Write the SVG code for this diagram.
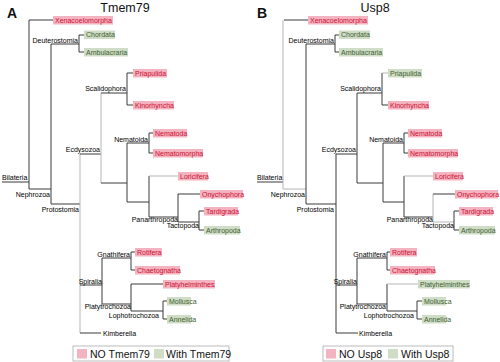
<svg xmlns="http://www.w3.org/2000/svg" width="500" height="362" viewBox="0 0 500 362">
<style>
text{font-family:"Liberation Sans",Arial,sans-serif}
.t{font-size:7px;fill:#000}
.r{text-anchor:end}
.bx text{font-size:7px}
.p rect{fill:#f4b3c0}
.p text{fill:#cc1133}
.g rect{fill:#cfdcc6}
.g text{fill:#3f5f32}
.ln{stroke:#3a3a3a;stroke-width:1;fill:none}
.lt{stroke:#b5b5b5;stroke-width:1;fill:none}
.title{font-size:12.5px;fill:#111;text-anchor:middle}
.pl{font-size:14px;font-weight:bold;fill:#111}
.lg{font-size:10.5px;fill:#111}
</style>
<rect width="500" height="362" fill="#fff"/>

<!-- Panel A -->
<text class="pl" x="7" y="18">A</text>
<text class="title" x="125" y="12">Tmem79</text>
<g id="connectors-A">
<path class="ln" d="M2,182H29M29,20V189M29,20H53"/>
<path class="ln" d="M29,189H51M51,44V204M51,44H79M79,35V52M79,35H84M79,52H84"/>
<path class="ln" d="M51,204H80"/>
<path class="lt" d="M80,154V333"/>
<path class="ln" d="M80,154H101"/>
<path class="lt" d="M101,93V183"/>
<path class="ln" d="M101,93H127M127,73V105M127,73H133M127,105H133"/>
<path class="ln" d="M101,183H127M127,143V202M127,143H149M149,133V153M149,133H153M149,153H153"/>
<path class="ln" d="M127,202H149M149,176V217"/>
<path class="lt" d="M149,176H178"/>
<path class="ln" d="M149,217H178M178,194V222M178,194H200M178,222H199M199,211V230M199,211H204M199,230H204"/>
<path class="ln" d="M80,285H102M102,258V304M102,258H131M131,252V270M131,252H135M131,270H135"/>
<path class="ln" d="M102,304H131M131,284V311M131,284H163M131,311H163M163,301V319M163,301H167M163,319H167"/>
<path class="ln" d="M80,333H101"/>
</g>
<g id="A-Bilateria"><text class="t" x="2" y="180">Bilateria</text></g>
<g id="A-Nephrozoa"><text class="t r" x="50" y="197">Nephrozoa</text></g>
<g id="A-Deuterostomia"><text class="t r" x="78" y="43">Deuterostomia</text></g>
<g id="A-Protostomia"><text class="t r" x="79" y="212">Protostomia</text></g>
<g id="A-Ecdysozoa"><text class="t r" x="100" y="152">Ecdysozoa</text></g>
<g id="A-Scalidophora"><text class="t r" x="126" y="91">Scalidophora</text></g>
<g id="A-Nematoida"><text class="t r" x="148" y="142">Nematoida</text></g>
<g id="A-Panarthropoda"><text class="t r" x="178" y="222">Panarthropoda</text></g>
<g id="A-Tactopoda"><text class="t r" x="199" y="228">Tactopoda</text></g>
<g id="A-Spiralia"><text class="t r" x="102" y="284">Spiralia</text></g>
<g id="A-Gnathifera"><text class="t r" x="130" y="257">Gnathifera</text></g>
<g id="A-Platytrochozoa"><text class="t r" x="131" y="309">Platytrochozoa</text></g>
<g id="A-Lophotrochozoa"><text class="t r" x="159" y="318">Lophotrochozoa</text></g>
<g id="A-Kimberella"><text class="t" x="103" y="336">Kimberella</text></g>
<g id="A-Xenacoelomorpha" class="bx p"><rect x="53" y="16" width="60" height="8.5"/><text x="55" y="22.5">Xenacoelomorpha</text></g>
<g id="A-Chordata" class="bx g"><rect x="84" y="30.5" width="31" height="8.5"/><text x="86" y="37">Chordata</text></g>
<g id="A-Ambulacraria" class="bx g"><rect x="84" y="48" width="44" height="8.5"/><text x="86" y="54.5">Ambulacraria</text></g>
<g id="A-Priapulida" class="bx p"><rect x="133" y="69" width="34" height="8.5"/><text x="135" y="75.5">Priapulida</text></g>
<g id="A-Kinorhyncha" class="bx p"><rect x="133" y="101" width="41" height="8.5"/><text x="135" y="107.5">Kinorhyncha</text></g>
<g id="A-Nematoda" class="bx p"><rect x="153" y="129" width="34" height="8.5"/><text x="155" y="135.5">Nematoda</text></g>
<g id="A-Nematomorpha" class="bx p"><rect x="153" y="149" width="50" height="8.5"/><text x="155" y="155.5">Nematomorpha</text></g>
<g id="A-Loricifera" class="bx p"><rect x="178" y="172" width="30" height="8.5"/><text x="180" y="178.5">Loricifera</text></g>
<g id="A-Onychophora" class="bx p"><rect x="200" y="190" width="43" height="8.5"/><text x="202" y="196.5">Onychophora</text></g>
<g id="A-Tardigrada" class="bx p"><rect x="204" y="207" width="34" height="8.5"/><text x="206" y="213.5">Tardigrada</text></g>
<g id="A-Arthropoda" class="bx g"><rect x="204" y="226" width="36" height="8.5"/><text x="206" y="232.5">Arthropoda</text></g>
<g id="A-Rotifera" class="bx p"><rect x="135" y="248" width="27" height="8.5"/><text x="137" y="254.5">Rotifera</text></g>
<g id="A-Chaetognatha" class="bx p"><rect x="135" y="266" width="45" height="8.5"/><text x="137" y="272.5">Chaetognatha</text></g>
<g id="A-Platyhelminthes" class="bx p"><rect x="163" y="280" width="52" height="8.5"/><text x="165" y="286.5">Platyhelminthes</text></g>
<g id="A-Mollusca" class="bx g"><rect x="167" y="297" width="24" height="8.5"/><text x="169" y="303.5">Mollusca</text></g>
<g id="A-Annelida" class="bx g"><rect x="167" y="315" width="24" height="8.5"/><text x="169" y="321.5">Annelida</text></g>
<g id="A-legend">
<rect x="73" y="346" width="156" height="15" fill="#fff" stroke="#aaa" stroke-width="0.8"/>
<rect x="77" y="349" width="10" height="9.5" fill="#f4b3c0"/>
<text class="lg" x="90" y="357.5">NO Tmem79</text>
<rect x="154" y="349" width="10" height="9.5" fill="#cfdcc6"/>
<text class="lg" x="166" y="357.5">With Tmem79</text>
</g>

<!-- Panel B -->
<text class="pl" x="257" y="18">B</text>
<text class="title" x="375" y="12">Usp8</text>
<g transform="translate(255,0)">
<g id="connectors-B">
<path class="ln" d="M2,182H28M29,20H53"/>
<path class="lt" d="M28,20V189"/>
<path class="lt" d="M28,189H51"/>
<path class="ln" d="M51,44V204M51,44H80M80,35V52M80,35H84M80,52H84"/>
<path class="ln" d="M51,204H81M81,154V333M81,154H102M102,93V183"/>
<path class="ln" d="M102,93H127M127,73V105M127,105H133"/>
<path class="lt" d="M127,73H133"/>
<path class="ln" d="M102,183H128M128,143V202M128,143H149M149,133V153M149,133H153M149,153H153"/>
<path class="ln" d="M128,202H149M149,176V217M149,217H178"/>
<path class="lt" d="M149,176H178"/>
<path class="lt" d="M178,194V222M178,222H199"/>
<path class="ln" d="M178,194H200M199,211V230M199,211H204M199,230H204"/>
<path class="ln" d="M81,285H102M102,258V304M102,258H132M132,252V270M132,252H135M132,270H135"/>
<path class="ln" d="M102,304H132M132,284V311M132,311H162M162,301V319M162,301H167M162,319H167"/>
<path class="lt" d="M132,284H163"/>
<path class="ln" d="M81,333H103"/>
</g>
<g id="B-Bilateria"><text class="t" x="2" y="180">Bilateria</text></g>
<g id="B-Nephrozoa"><text class="t r" x="50" y="197">Nephrozoa</text></g>
<g id="B-Deuterostomia"><text class="t r" x="79" y="43">Deuterostomia</text></g>
<g id="B-Protostomia"><text class="t r" x="79" y="212">Protostomia</text></g>
<g id="B-Ecdysozoa"><text class="t r" x="101" y="152">Ecdysozoa</text></g>
<g id="B-Scalidophora"><text class="t r" x="126" y="91">Scalidophora</text></g>
<g id="B-Nematoida"><text class="t r" x="148" y="142">Nematoida</text></g>
<g id="B-Panarthropoda"><text class="t r" x="178" y="222">Panarthropoda</text></g>
<g id="B-Tactopoda"><text class="t r" x="199" y="228">Tactopoda</text></g>
<g id="B-Spiralia"><text class="t r" x="102" y="284">Spiralia</text></g>
<g id="B-Gnathifera"><text class="t r" x="131" y="257">Gnathifera</text></g>
<g id="B-Platytrochozoa"><text class="t r" x="131" y="309">Platytrochozoa</text></g>
<g id="B-Lophotrochozoa"><text class="t r" x="159" y="318">Lophotrochozoa</text></g>
<g id="B-Kimberella"><text class="t" x="104" y="336">Kimberella</text></g>
<g id="B-Xenacoelomorpha" class="bx p"><rect x="53" y="16" width="60" height="8.5"/><text x="55" y="22.5">Xenacoelomorpha</text></g>
<g id="B-Chordata" class="bx g"><rect x="84" y="30.5" width="31" height="8.5"/><text x="86" y="37">Chordata</text></g>
<g id="B-Ambulacraria" class="bx g"><rect x="84" y="48" width="44" height="8.5"/><text x="86" y="54.5">Ambulacraria</text></g>
<g id="B-Priapulida" class="bx g"><rect x="133" y="69" width="34" height="8.5"/><text x="135" y="75.5">Priapulida</text></g>
<g id="B-Kinorhyncha" class="bx p"><rect x="133" y="101" width="41" height="8.5"/><text x="135" y="107.5">Kinorhyncha</text></g>
<g id="B-Nematoda" class="bx p"><rect x="153" y="129" width="34" height="8.5"/><text x="155" y="135.5">Nematoda</text></g>
<g id="B-Nematomorpha" class="bx p"><rect x="153" y="149" width="50" height="8.5"/><text x="155" y="155.5">Nematomorpha</text></g>
<g id="B-Loricifera" class="bx p"><rect x="178" y="172" width="30" height="8.5"/><text x="180" y="178.5">Loricifera</text></g>
<g id="B-Onychophora" class="bx p"><rect x="200" y="190" width="43" height="8.5"/><text x="202" y="196.5">Onychophora</text></g>
<g id="B-Tardigrada" class="bx p"><rect x="204" y="207" width="34" height="8.5"/><text x="206" y="213.5">Tardigrada</text></g>
<g id="B-Arthropoda" class="bx g"><rect x="204" y="226" width="36" height="8.5"/><text x="206" y="232.5">Arthropoda</text></g>
<g id="B-Rotifera" class="bx p"><rect x="135" y="248" width="27" height="8.5"/><text x="137" y="254.5">Rotifera</text></g>
<g id="B-Chaetognatha" class="bx p"><rect x="135" y="266" width="45" height="8.5"/><text x="137" y="272.5">Chaetognatha</text></g>
<g id="B-Platyhelminthes" class="bx g"><rect x="163" y="280" width="52" height="8.5"/><text x="165" y="286.5">Platyhelminthes</text></g>
<g id="B-Mollusca" class="bx g"><rect x="167" y="297" width="24" height="8.5"/><text x="169" y="303.5">Mollusca</text></g>
<g id="B-Annelida" class="bx g"><rect x="167" y="315" width="24" height="8.5"/><text x="169" y="321.5">Annelida</text></g>
</g>
<g id="B-legend">
<rect x="323" y="346" width="130" height="15" fill="#fff" stroke="#aaa" stroke-width="0.8"/>
<rect x="326" y="349" width="10" height="9.5" fill="#f4b3c0"/>
<text class="lg" x="339" y="357.5">NO Usp8</text>
<rect x="388" y="349" width="10" height="9.5" fill="#cfdcc6"/>
<text class="lg" x="401" y="357.5">With Usp8</text>
</g>
</svg>
